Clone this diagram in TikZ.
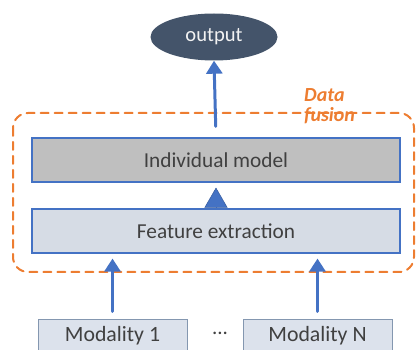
\documentclass[tikz,border=0pt]{standalone}
\usepackage{fontspec}
\setmainfont{Carlito}
\usepackage{tikz}
\usetikzlibrary{arrows.meta,shapes.geometric}
\usepackage{xcolor}
\definecolor{navy}{HTML}{44546A}
\definecolor{flowblue}{HTML}{4472C4}
\definecolor{fuseorange}{HTML}{ED7D31}
\definecolor{modelgray}{HTML}{BFBFBF}
\definecolor{featfill}{HTML}{D6DCE5}
\definecolor{modfill}{HTML}{DCE2EC}
\definecolor{modedge}{HTML}{8497B0}
\definecolor{textgray}{HTML}{404040}

\begin{document}
\begin{tikzpicture}[x=1pt,y=-1pt,line cap=round,
  flow/.style={flowblue,line width=3pt,-{Triangle[length=13pt,width=16pt]}},
  bigbox/.style={draw=flowblue,line width=1.2pt,minimum width=368pt,minimum height=44pt,
    text=textgray,font=\fontsize{21.3}{25}\selectfont},
  modbox/.style={draw=modedge,fill=modfill,line width=1pt,minimum width=149pt,minimum height=32pt,
    text=textgray,font=\fontsize{21.8}{25}\selectfont}]
\clip (0,0) rectangle (416,350);
% fusion frame
\draw[fuseorange,line width=2pt,dash pattern=on 8pt off 6pt,rounded corners=15pt] (13,113) rectangle (414,272);
\node[anchor=north west,align=left,inner sep=0pt,fuseorange,
  font=\fontsize{20}{20}\bfseries\itshape\selectfont] (fusion) at (304,88) {Data\\fusion};
% boxes
\node[ellipse,fill=navy,minimum width=127pt,minimum height=47pt,text=white!95!black,
  font=\fontsize{20.6}{24}\selectfont] (out) at (214,37) {output};
\node[bigbox,fill=modelgray] (model) at (216,160) {Individual model};
\node[bigbox,fill=featfill] (feat) at (216,231) {Feature extraction};
\node[modbox] (mod1) at (112.5,336) {Modality 1};
\node[modbox] (modN) at (317.5,336) {Modality N};
\node[text=textgray,font=\fontsize{21}{24}\selectfont] (dots) at (220,333) {...};
% arrows
\draw[flow,shorten <=11pt] (model.north) -- (out.south);
\draw[flowblue!80!black,line width=0.5pt,fill=flowblue,-{Triangle[length=20pt,width=23pt,fill=flowblue]},
  shorten <=2pt,shorten >=5pt] (feat.north) -- (model.south);
\draw[flow,shorten <=8pt,shorten >=5pt] (mod1.north) -- (mod1.north |- feat.south);
\draw[flow,shorten <=8pt,shorten >=5pt] (modN.north) -- (modN.north |- feat.south);
\end{tikzpicture}
\end{document}
